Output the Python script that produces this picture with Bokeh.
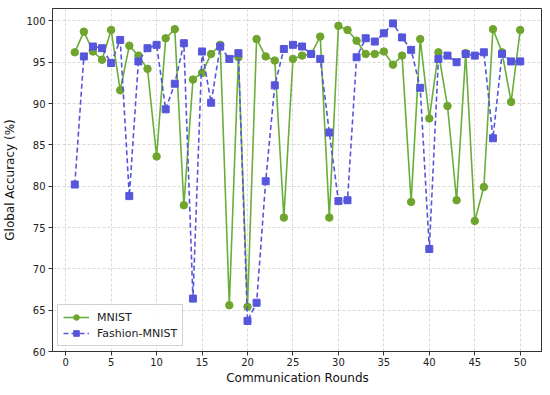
from bokeh.plotting import figure
from bokeh.models import Range1d, FixedTicker, Legend, LegendItem
from bokeh.embed import file_html
from bokeh.resources import INLINE

rounds = list(range(1, 51))
mnist = [96.2, 98.7, 96.3, 95.3, 98.9, 91.6, 97.0, 95.8, 94.2, 83.6,
         97.9, 99.0, 77.7, 92.9, 93.7, 96.0, 97.1, 65.6, 95.6, 65.4,
         97.8, 95.7, 95.2, 76.2, 95.4, 95.8, 96.0, 98.1, 76.2, 99.4,
         98.9, 97.6, 96.0, 96.0, 96.3, 94.7, 95.8, 78.1, 97.8, 88.2,
         96.2, 89.7, 78.3, 96.1, 75.8, 79.9, 99.0, 96.2, 90.2, 98.9]
fashion = [80.2, 95.7, 96.9, 96.7, 94.9, 97.7, 78.8, 95.1, 96.7, 97.1,
           89.3, 92.4, 97.3, 66.4, 96.3, 90.1, 96.9, 95.4, 96.1, 63.7,
           65.9, 80.6, 92.2, 96.6, 97.1, 96.9, 96.0, 95.4, 86.5, 78.2,
           78.3, 95.6, 97.9, 97.5, 98.5, 99.7, 98.0, 96.5, 91.9, 72.4,
           95.4, 95.8, 95.0, 96.0, 95.8, 96.2, 85.8, 96.0, 95.1, 95.1]
x_ticks = [0, 5, 10, 15, 20, 25, 30, 35, 40, 45, 50]
y_ticks = [60, 65, 70, 75, 80, 85, 90, 95, 100]

FONT = "DejaVu Sans"
GREEN_LINE = "#6aae3a"
GREEN_MARK = "#6fa52c"
BLUE = "#5656dc"

p = figure(width=542, height=387, output_backend="svg", toolbar_location=None,
           x_range=Range1d(-1.45, 52.45), y_range=Range1d(60, 101.5),
           min_border_left=40, min_border_right=0, min_border_top=8, min_border_bottom=0)

p.outline_line_color = "#333333"
p.outline_line_width = 1
p.background_fill_color = "white"
p.border_fill_color = "white"

for ax in (p.xaxis[0], p.yaxis[0]):
    ax.axis_line_color = "#333333"
    ax.major_tick_line_color = "#333333"
    ax.major_tick_out = 4
    ax.major_tick_in = 0
    ax.minor_tick_line_color = None
    ax.major_label_text_font = FONT
    ax.major_label_text_font_size = "10px"
    ax.major_label_text_color = "#222222"
    ax.axis_label_text_font = FONT
    ax.axis_label_text_font_size = "12px"
    ax.axis_label_text_font_style = "normal"
    ax.axis_label_text_color = "#111111"

p.xaxis.ticker = FixedTicker(ticks=x_ticks)
p.yaxis.ticker = FixedTicker(ticks=y_ticks)
p.xaxis.axis_label = "Communication Rounds"
p.yaxis.axis_label = "Global Accuracy (%)"
p.xaxis.axis_label_standoff = 2
p.yaxis.axis_label_standoff = 6
p.xaxis.major_label_standoff = 2
p.yaxis.major_label_standoff = 3

for g in (p.xgrid[0], p.ygrid[0]):
    g.grid_line_color = "#bbbbbb"
    g.grid_line_dash = "3 2"
    g.grid_line_alpha = 0.7
    g.grid_line_width = 0.8

l1 = p.line(rounds, mnist, line_color=GREEN_LINE, line_width=1.6)
c1 = p.scatter(rounds, mnist, marker="circle", size=7.5, fill_color=GREEN_MARK,
               line_color=GREEN_MARK)
l2 = p.line(rounds, fashion, line_color=BLUE, line_width=1.6, line_dash="5 3")
c2 = p.scatter(rounds, fashion, marker="square", size=7, fill_color=BLUE,
               line_color=BLUE)

legend = Legend(items=[LegendItem(label="MNIST", renderers=[l1, c1]),
                       LegendItem(label="Fashion-MNIST", renderers=[l2, c2])],
                location="bottom_left")
legend.label_text_font = FONT
legend.label_text_font_size = "11px"
legend.label_text_color = "#222222"
legend.border_line_color = "#cccccc"
legend.border_line_alpha = 0.9
legend.background_fill_alpha = 0.85
legend.glyph_width = 26
legend.spacing = 2
legend.padding = 5
legend.margin = 5
legend.label_standoff = 8
legend.label_height = 14
legend.glyph_height = 14
p.add_layout(legend)

open("out.html", "w").write(file_html(p, INLINE))
